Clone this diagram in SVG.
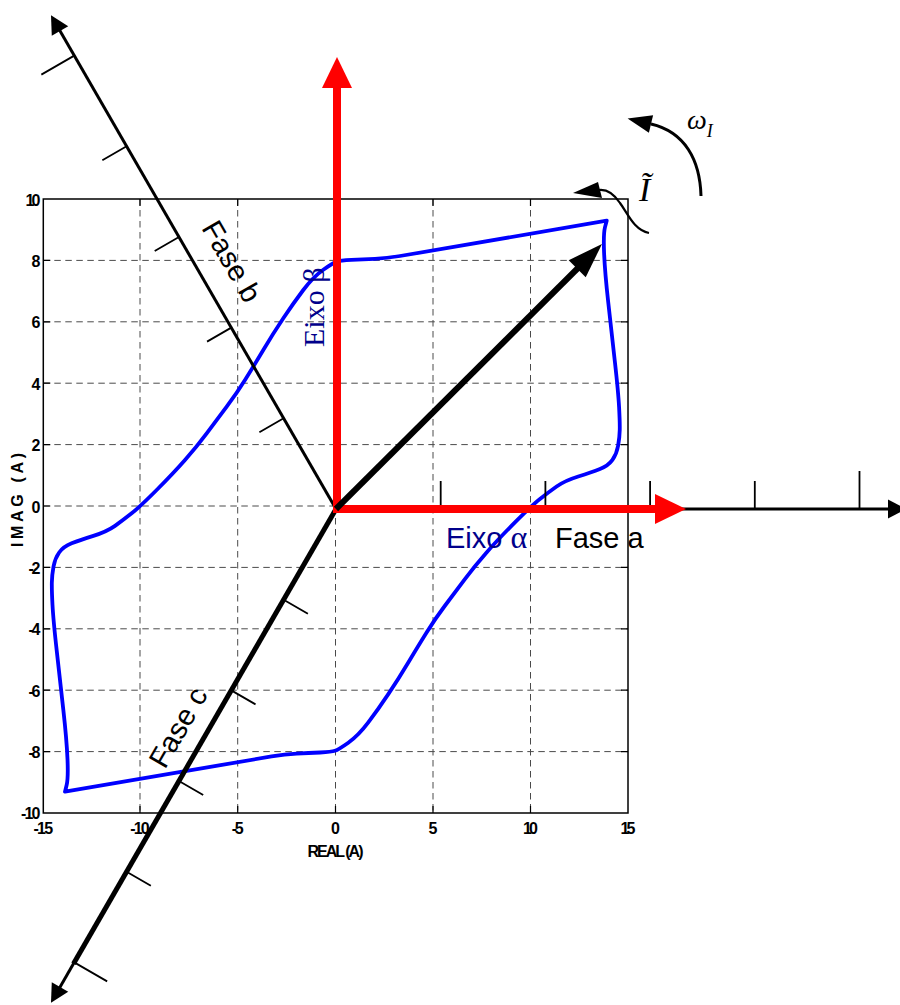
<svg xmlns="http://www.w3.org/2000/svg" width="900" height="1005" viewBox="0 0 900 1005">
<style>
.grid{stroke:#4a4a4a;stroke-width:1;stroke-dasharray:6.5 4.5;fill:none}
.frame{stroke:#000;stroke-width:1.5;fill:none}
.tk{stroke:#000;stroke-width:1.2}
.lbl{font-family:"Liberation Sans",Arial,sans-serif;font-weight:bold;font-size:16px;fill:#000}
.lx{text-anchor:middle}
.ly{text-anchor:end}
.ph{font-family:"Liberation Sans",Arial,sans-serif;font-size:29px;fill:#000}
.ser{font-family:"Liberation Serif","Times New Roman",serif}
.ptick{stroke:#000;stroke-width:1.8}
</style>
<rect width="900" height="1005" fill="#fff"/>
<g id="grid">
<line class="grid" x1="140" y1="199" x2="140" y2="813"/>
<line class="grid" x1="237.7" y1="199" x2="237.7" y2="813"/>
<line class="grid" x1="335.5" y1="199" x2="335.5" y2="813"/>
<line class="grid" x1="433" y1="199" x2="433" y2="813"/>
<line class="grid" x1="530.5" y1="199" x2="530.5" y2="813"/>
<line class="grid" x1="43.3" y1="260.4" x2="628" y2="260.4"/>
<line class="grid" x1="43.3" y1="321.8" x2="628" y2="321.8"/>
<line class="grid" x1="43.3" y1="383.2" x2="628" y2="383.2"/>
<line class="grid" x1="43.3" y1="444.6" x2="628" y2="444.6"/>
<line class="grid" x1="43.3" y1="506" x2="628" y2="506"/>
<line class="grid" x1="43.3" y1="567.4" x2="628" y2="567.4"/>
<line class="grid" x1="43.3" y1="628.8" x2="628" y2="628.8"/>
<line class="grid" x1="43.3" y1="690.2" x2="628" y2="690.2"/>
<line class="grid" x1="43.3" y1="751.6" x2="628" y2="751.6"/>
</g>
<g id="plot-frame">
<rect class="frame" x="43.3" y="199" width="584.7" height="614"/>
<path class="tk" d="M140,813v-7M237.7,813v-7M335.5,813v-7M433,813v-7M530.5,813v-7M140,199v7M237.7,199v7M335.5,199v7M433,199v7M530.5,199v7M43.3,260.4h7M43.3,321.8h7M43.3,383.2h7M43.3,444.6h7M43.3,506h7M43.3,567.4h7M43.3,628.8h7M43.3,690.2h7M43.3,751.6h7M628,260.4h-7M628,321.8h-7M628,383.2h-7M628,444.6h-7M628,506h-7M628,567.4h-7M628,628.8h-7M628,690.2h-7M628,751.6h-7"/>
<text class="lbl ly" x="40.5" y="205.5" textLength="15">10</text>
<text class="lbl ly" x="40.5" y="266.9" textLength="7.5">8</text>
<text class="lbl ly" x="40.5" y="328.3" textLength="7.5">6</text>
<text class="lbl ly" x="40.5" y="389.7" textLength="7.5">4</text>
<text class="lbl ly" x="40.5" y="451.1" textLength="7.5">2</text>
<text class="lbl ly" x="40.5" y="512.5" textLength="7.5">0</text>
<text class="lbl ly" x="40.5" y="573.9" textLength="12">-2</text>
<text class="lbl ly" x="40.5" y="635.3" textLength="12">-4</text>
<text class="lbl ly" x="40.5" y="696.7" textLength="12">-6</text>
<text class="lbl ly" x="40.5" y="758.1" textLength="12">-8</text>
<text class="lbl ly" x="40.5" y="819" textLength="19.5">-10</text>
<text class="lbl lx" x="43.3" y="834" textLength="19.5">-15</text>
<text class="lbl lx" x="140" y="834" textLength="19.5">-10</text>
<text class="lbl lx" x="237.7" y="834" textLength="12">-5</text>
<text class="lbl lx" x="335.5" y="834" textLength="7.5">0</text>
<text class="lbl lx" x="433" y="834" textLength="7.5">5</text>
<text class="lbl lx" x="530.5" y="834" textLength="15">10</text>
<text class="lbl lx" x="628" y="834" textLength="15">15</text>
<text class="lbl lx" x="335.5" y="857" textLength="56">REAL (A)</text>
<text class="lbl lx" transform="translate(23,500) rotate(-90)" font-size="14" textLength="94">IMAG (A)</text>
</g>
<g id="curve">
<path fill="none" stroke="#0000FF" stroke-width="3.8" stroke-linejoin="round" d="M606.7,220.7 L400,256 Q386.7,258.3 374.85,258.8 Q363,259.3 351.5,259.9 Q340,260.5 336.65,261.6 Q333.3,262.7 323.3,269.7 Q313.3,276.7 303.3,290 Q293.3,303.3 283.3,318.3 Q273.3,333.3 263.3,350 Q253.3,366.7 245,380 Q236.7,393.3 226.7,406.65 Q216.7,420 206.7,433.35 Q196.7,446.7 185,460 Q173.3,473.3 156.65,490 Q140,506.7 131.65,513.35 Q123.3,520 115,525.85 Q106.7,531.7 93.35,535.85 Q80,540 71.65,543.35 Q63.3,546.7 59.15,552.5 Q55,558.3 53.5,566.65 Q52,575 51.85,582.5 Q51.7,590 52.5,605 Q53.3,620 56.65,650 Q60,680 63.35,710 Q66.7,740 67.5,759.15 Q68.3,778.3 66.65,785 L65,791.7 L271.6,756.4 Q284.9,754.1 296.75,753.6 Q308.6,753.1 320.1,752.5 Q331.6,751.9 334.95,750.8 Q338.3,749.7 348.3,742.7 Q358.3,735.7 368.3,722.4 Q378.3,709.1 388.3,694.1 Q398.3,679.1 408.3,662.4 Q418.3,645.7 426.6,632.4 Q434.9,619.1 444.9,605.75 Q454.9,592.4 464.9,579.05 Q474.9,565.7 486.6,552.4 Q498.3,539.1 514.95,522.4 Q531.6,505.7 539.95,499.05 Q548.3,492.4 556.6,486.55 Q564.9,480.7 578.25,476.55 Q591.6,472.4 599.95,469.05 Q608.3,465.7 612.45,459.9 Q616.6,454.1 618.1,445.75 Q619.6,437.4 619.75,429.9 Q619.9,422.4 619.1,407.4 Q618.3,392.4 614.95,362.4 Q611.6,332.4 608.25,302.4 Q604.9,272.4 604.1,253.25 Q603.3,234.1 604.95,227.4 Z"/>
</g>
<g id="phase-a" transform="translate(336,509)">
<line x1="0" y1="0" x2="553" y2="0" stroke="#000" stroke-width="3"/>
<path class="ptick" d="M104.7,0v-28M209.4,0v-28M314.1,0v-28M418.8,0v-28M523.5,0v-38"/>
<polygon points="570,0 552,-9.5 552,9.5" fill="#000"/>
</g>
<g id="phase-b" transform="translate(336,509) rotate(-120)">
<line x1="0" y1="0" x2="553" y2="0" stroke="#000" stroke-width="3"/>
<path class="ptick" d="M104.7,0v-28M209.4,0v-28M314.1,0v-28M418.8,0v-28M523.5,0v-38"/>
<polygon points="570,0 552,-9.5 552,9.5" fill="#000"/>
</g>
<g id="phase-c" transform="translate(336,509) rotate(120)">
<line x1="0" y1="0" x2="525" y2="0" stroke="#000" stroke-width="5"/>
<line x1="524" y1="0" x2="553" y2="0" stroke="#000" stroke-width="3"/>
<path class="ptick" d="M104.7,0v-28M209.4,0v-28M314.1,0v-28M418.8,0v-28M523.5,0v-38"/>
<polygon points="570,0 552,-9.5 552,9.5" fill="#000"/>
</g>
<g id="eixo-alpha">
<line x1="333" y1="509" x2="656" y2="509" stroke="#FF0000" stroke-width="8"/>
<polygon points="686,509 655,494 655,524" fill="#FF0000"/>
</g>
<g id="eixo-beta">
<line x1="337" y1="512" x2="337" y2="87" stroke="#FF0000" stroke-width="8"/>
<polygon points="337,57 322,88 352,88" fill="#FF0000"/>
</g>
<g id="connectors">
<g id="vector-I">
<line x1="336" y1="509" x2="578" y2="268" stroke="#000" stroke-width="6"/>
<polygon points="602,244 568.7,260.2 585.7,277.2" fill="#000"/>
</g>
<g id="omega-arrow">
<path d="M701,196 C700,160 685,132 651,124" fill="none" stroke="#000" stroke-width="3"/>
<polygon points="627.6,118.5 653.1,115.2 648.9,132.8" fill="#000"/>
</g>
<g id="tilde-arrow">
<path d="M649,233 C634,230 628,214 620,203 C614,194 608,189 599,190" fill="none" stroke="#000" stroke-width="2.2"/>
<polygon points="573,193 598,182 602,198" fill="#000"/>
</g>
</g>
<g id="labels">
<text class="ph" x="201" y="228" transform="rotate(60 201 228)">Fase b</text>
<text class="ph" x="165" y="770" transform="rotate(-60 165 770)">Fase c</text>
<text class="ph" x="555" y="548">Fase a</text>
<text x="446" y="548" font-size="29" fill="#00008B"><tspan font-family="Liberation Sans, Arial, sans-serif">Eixo </tspan><tspan class="ser" font-size="32">α</tspan></text>
<text class="ser" transform="translate(324,347) rotate(-90)" font-size="30" fill="#00008B">Eixo β</text>
<text class="ser" x="687" y="129" font-size="28" font-style="italic">ω<tspan font-size="18" dy="8">I</tspan></text>
<text class="ser" x="639" y="201" font-size="34" font-style="italic">Ĩ</text>
</g>
</svg>
